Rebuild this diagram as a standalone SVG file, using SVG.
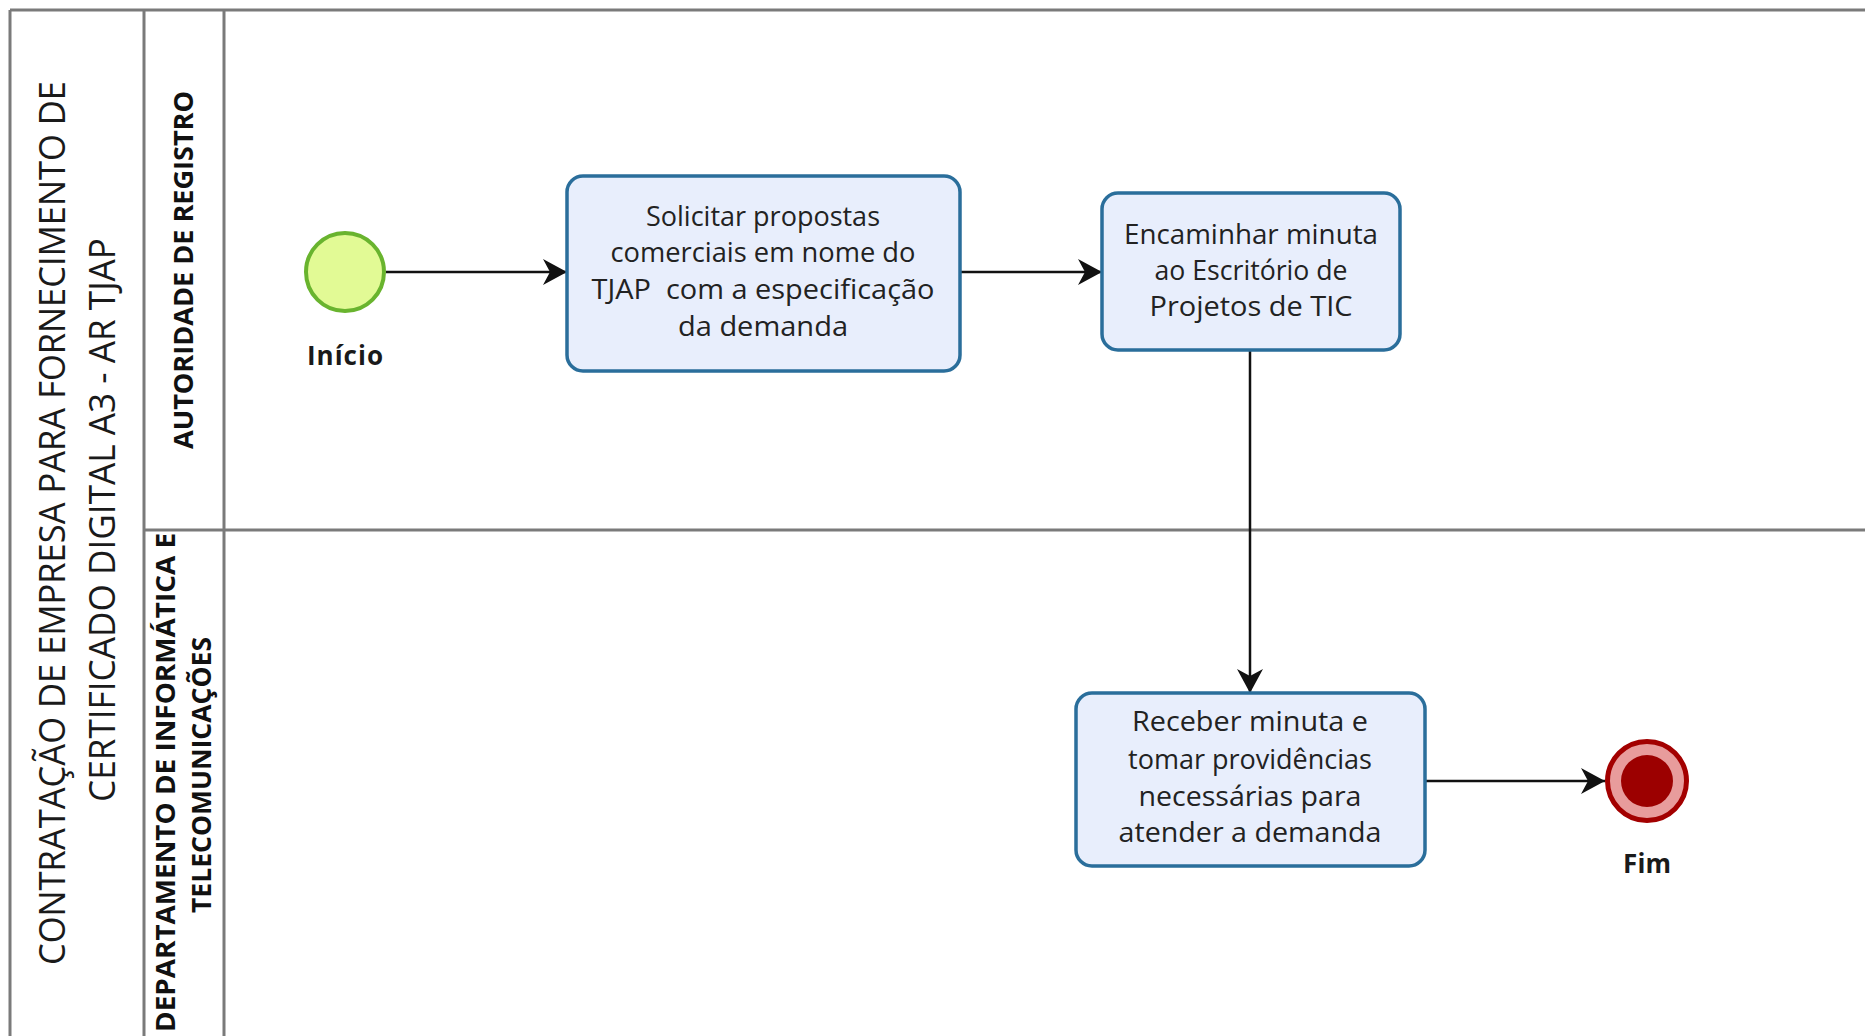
<svg xmlns="http://www.w3.org/2000/svg" width="1865" height="1036" viewBox="0 0 1865 1036">
<defs>
<style>
.pool{stroke:#7a7a7a;stroke-width:3;fill:none}
.task{fill:#E8EEFC;stroke:#2A6E9B;stroke-width:3.5}
.tt{font-family:"Open Sans","Noto Sans","DejaVu Sans",sans-serif;font-size:27px;fill:#222;text-anchor:middle}
.lbl{font-family:"Open Sans","Noto Sans","DejaVu Sans",sans-serif;font-size:26px;font-weight:bold;fill:#1a1a1a;text-anchor:middle}
.title{font-family:"Open Sans","Noto Sans","DejaVu Sans",sans-serif;font-size:37px;fill:#1a1a1a}
.lane{font-family:"Open Sans","Noto Sans","DejaVu Sans",sans-serif;font-size:27px;font-weight:bold;fill:#111}
.flow{stroke:#111;stroke-width:2.5;fill:none;marker-end:url(#arr)}
</style>
<marker id="arr" markerUnits="userSpaceOnUse" markerWidth="26" markerHeight="28" refX="24" refY="13" orient="auto">
<path d="M0,0 L24,13 L0,26 L7,13 Z" fill="#111"/>
</marker>
</defs>
<rect width="1865" height="1036" fill="#ffffff"/>
<g id="pool">
<line class="pool" x1="10" y1="10" x2="1865" y2="10"/>
<line class="pool" x1="10" y1="10" x2="10" y2="1036"/>
<line class="pool" x1="144" y1="10" x2="144" y2="1036"/>
<line class="pool" x1="224" y1="10" x2="224" y2="1036"/>
<line class="pool" x1="144" y1="530" x2="1865" y2="530"/>
<text class="title" transform="translate(65,965) rotate(-90)" textLength="884" lengthAdjust="spacingAndGlyphs">CONTRATAÇÃO DE EMPRESA PARA FORNECIMENTO DE</text>
<text class="title" transform="translate(115,802) rotate(-90)" textLength="564" lengthAdjust="spacingAndGlyphs">CERTIFICADO DIGITAL A3 - AR TJAP</text>
</g>
<g id="lane-autoridade">
<text class="lane" transform="translate(193,449) rotate(-90)" textLength="358" lengthAdjust="spacingAndGlyphs">AUTORIDADE DE REGISTRO</text>
</g>
<g id="lane-departamento">
<text class="lane" transform="translate(175,1032) rotate(-90)" textLength="499" lengthAdjust="spacingAndGlyphs">DEPARTAMENTO DE INFORMÁTICA E</text>
<text class="lane" transform="translate(211,913) rotate(-90)" textLength="276" lengthAdjust="spacingAndGlyphs">TELECOMUNICAÇÕES</text>
</g>
<g id="connectors">
<line class="flow" x1="386" y1="272" x2="567" y2="272"/>
<line class="flow" x1="960" y1="272" x2="1102" y2="272"/>
<line class="flow" x1="1250" y1="350" x2="1250" y2="693"/>
<line class="flow" x1="1425" y1="781" x2="1605" y2="781"/>
</g>
<g id="start">
<circle cx="345" cy="272" r="39" fill="#E2FA95" stroke="#69B42E" stroke-width="4"/>
<text class="lbl" x="345" y="365" textLength="76">Início</text>
</g>
<g id="task1">
<rect class="task" x="567" y="176" width="393" height="195" rx="16"/>
<text class="tt" x="763" y="226" textLength="234" lengthAdjust="spacingAndGlyphs">Solicitar propostas</text>
<text class="tt" x="763" y="262" textLength="305" lengthAdjust="spacingAndGlyphs">comerciais em nome do</text>
<text class="tt" x="763" y="299" textLength="343" lengthAdjust="spacingAndGlyphs" xml:space="preserve">TJAP  com a especificação</text>
<text class="tt" x="763" y="336" textLength="170" lengthAdjust="spacingAndGlyphs">da demanda</text>
</g>
<g id="task2">
<rect class="task" x="1102" y="193" width="298" height="157" rx="16"/>
<text class="tt" x="1251" y="244" textLength="254" lengthAdjust="spacingAndGlyphs">Encaminhar minuta</text>
<text class="tt" x="1251" y="280" textLength="193" lengthAdjust="spacingAndGlyphs">ao Escritório de</text>
<text class="tt" x="1251" y="316" textLength="203" lengthAdjust="spacingAndGlyphs">Projetos de TIC</text>
</g>
<g id="task3">
<rect class="task" x="1076" y="693" width="349" height="173" rx="16"/>
<text class="tt" x="1250" y="731" textLength="236" lengthAdjust="spacingAndGlyphs">Receber minuta e</text>
<text class="tt" x="1250" y="769" textLength="244" lengthAdjust="spacingAndGlyphs">tomar providências</text>
<text class="tt" x="1250" y="806" textLength="223" lengthAdjust="spacingAndGlyphs">necessárias para</text>
<text class="tt" x="1250" y="842" textLength="263" lengthAdjust="spacingAndGlyphs">atender a demanda</text>
</g>
<g id="end">
<circle cx="1647" cy="781" r="39.5" fill="#E89C9C" stroke="#A30000" stroke-width="5"/>
<circle cx="1647" cy="781" r="26" fill="#9C0000"/>
<text class="lbl" x="1647" y="873" textLength="48">Fim</text>
</g>
</svg>
